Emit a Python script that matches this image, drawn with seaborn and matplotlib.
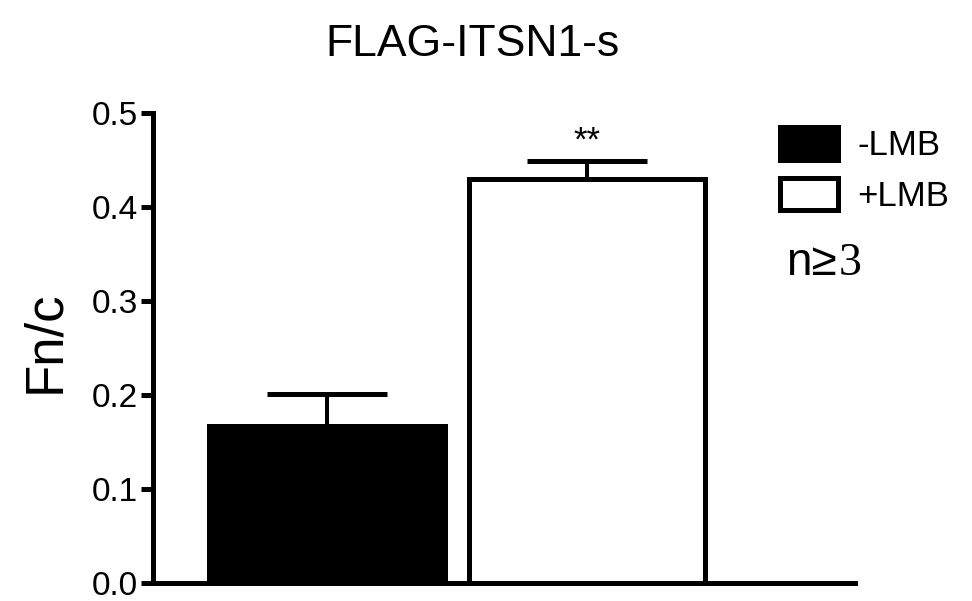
import numpy as np
import pandas as pd
import matplotlib
matplotlib.use("Agg")
import matplotlib.pyplot as plt
from matplotlib.patches import Patch
import seaborn as sns

# values
conditions = ["-LMB", "+LMB"]
means = [0.167, 0.430]
errors = [0.034, 0.019]
bar_colors = ["black", "white"]
y_ticks = [0.0, 0.1, 0.2, 0.3, 0.4, 0.5]

df = pd.DataFrame({"cond": conditions, "fnc": means})

sns.set_style("ticks")
plt.rcParams["font.family"] = ["Liberation Sans", "DejaVu Sans"]
plt.rcParams["text.color"] = "black"

fig = plt.figure(figsize=(9.72, 6.01), dpi=100)
ax = fig.add_axes([0.1574, 0.0300, 0.7222, 0.7820])

sns.barplot(data=df, x="cond", y="fnc", hue="cond",
            palette=dict(zip(conditions, bar_colors)),
            edgecolor="black", linewidth=3.6, width=0.91,
            errorbar=None, legend=False, ax=ax)

# upward-only error bars
ax.errorbar(np.arange(len(conditions)), means,
            yerr=[np.zeros(len(errors)), errors],
            fmt="none", ecolor="black", elinewidth=2.9,
            capsize=43, capthick=3.6, zorder=1)

ax.text(1, 0.452, "**", ha="center", va="bottom", fontsize=25, color="black")

ax.set_ylim(0, 0.5)
ax.set_xlim(-0.669, 2.03)
ax.set_yticks(y_ticks)
ax.set_yticklabels([f"{t:.1f}" for t in y_ticks], fontsize=24)
ax.set_xticks([])
ax.set_xlabel("")
ax.set_ylabel("")
ax.tick_params(axis="y", length=9, width=3.6, pad=2, colors="black")
sns.despine(ax=ax)
for s in ["left", "bottom"]:
    ax.spines[s].set_linewidth(3.6)
    ax.spines[s].set_color("black")

fig.text(45 / 972, 1 - 342 / 601, "Fn/c", rotation=90,
         ha="center", va="center", fontsize=38)
fig.text(472 / 972, 1 - 45 / 601, "FLAG-ITSN1-s",
         ha="center", va="center", fontsize=32)

handles = [Patch(facecolor=c, edgecolor="black", linewidth=3.6) for c in bar_colors]
fig.legend(handles, conditions, loc="upper left",
           bbox_to_anchor=(780 / 972, 1 - 127 / 601),
           frameon=False, fontsize=25, borderpad=0, borderaxespad=0,
           handlelength=1.67, handleheight=1.07, labelspacing=0.45,
           handletextpad=0.55)

t1 = fig.text(786 / 972, 1 - 275 / 601, "n\u2265", ha="left",
              va="baseline", fontsize=33)
fig.canvas.draw()
bb = t1.get_window_extent(fig.canvas.get_renderer())
fig.text(bb.x1 / 972 + 2 / 972, 1 - 275 / 601, "3", ha="left",
         va="baseline", fontsize=33, family="Liberation Serif")

fig.savefig("out.png", dpi=100)
